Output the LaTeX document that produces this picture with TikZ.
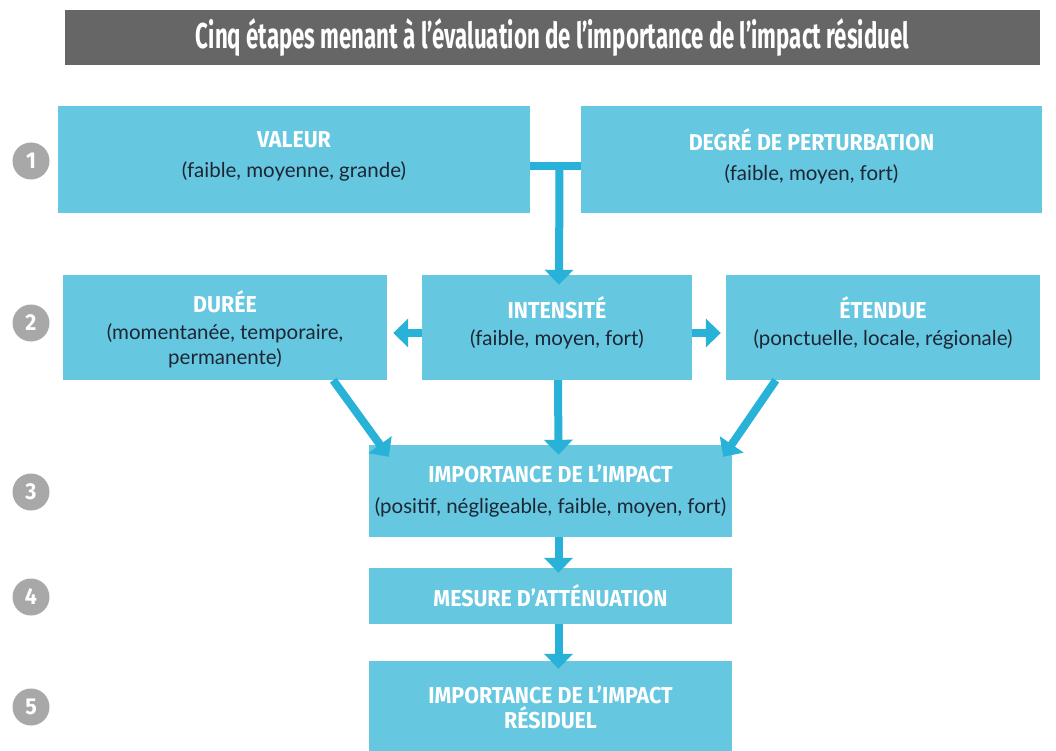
\documentclass[tikz,border=0pt]{standalone}
\usepackage{fontspec}
\usetikzlibrary{arrows.meta,calc}
\newfontfamily\hdfont{Fira Sans}[FakeStretch=0.93]
\newfontfamily\bdfont{Lato}
\newfontfamily\ttlfont{Fira Sans}[FakeStretch=0.62]
\definecolor{boxblue}{RGB}{102,199,224}
\definecolor{arrowblue}{RGB}{40,178,215}
\definecolor{titlegray}{RGB}{102,102,102}
\definecolor{numgray}{RGB}{168,168,168}
\definecolor{bodytext}{RGB}{28,38,52}
\newcommand\hdtxt[1]{{\hdfont\bfseries\color{white}\fontsize{23}{26}\selectfont #1}}
\begin{document}
\begin{tikzpicture}[x=1pt,y=-1pt,
  box/.style={fill=boxblue, draw=none, inner sep=0pt, align=center, text=bodytext,
    font=\bdfont\fontsize{20.5}{27}\selectfont},
  arr/.style={draw=arrowblue, line width=8pt, -{Triangle[width=28pt,length=15pt]}},
  bar/.style={draw=arrowblue, line width=8pt},
  num/.style={circle, fill=numgray, minimum size=37pt, inner sep=0pt, text=white,
    font=\hdfont\bfseries\fontsize{23}{23}\selectfont},
  titlebar/.style={fill=titlegray, inner sep=0pt, text=white}]
\useasboundingbox (0,0) rectangle (1056,751);
\fill[white] (0,0) rectangle (1056,751);
% title
\node[titlebar, minimum width=975pt, minimum height=55pt] (title) at (552.5,37.5)
  {\resizebox{713pt}{!}{\ttlfont\bfseries Cinq étapes menant à l’évaluation de l’importance de l’impact résiduel}};
% step numbers
\node[num] (n1) at (31,161) {1};
\node[num] (n2) at (31,323) {2};
\node[num] (n3) at (31,492) {3};
\node[num] (n4) at (31,597) {4};
\node[num] (n5) at (31,707) {5};
% row 1
\node[box, minimum width=472pt, minimum height=107pt] (val) at (294,159.5)
  {\hdtxt{VALEUR}\\[3pt](faible, moyenne, grande)\rule[-9pt]{0pt}{0pt}};
\node[box, minimum width=461pt, minimum height=107pt] (deg) at (811.5,159.5)
  {\hdtxt{DEGRÉ DE PERTURBATION}\\[3pt](faible, moyen, fort)\rule[-9pt]{0pt}{0pt}};
% row 2
\node[box, minimum width=324pt, minimum height=105pt] (dur) at (225,327.5)
  {\rule{0pt}{26pt}\hdtxt{DURÉE}\\[0pt](momentanée, temporaire,\\[-2pt]permanente)};
\node[box, minimum width=270pt, minimum height=105pt] (int) at (557,327.5)
  {\hdtxt{INTENSITÉ}\\(faible, moyen, fort)\rule[-13pt]{0pt}{0pt}};
\node[box, minimum width=314pt, minimum height=105pt] (ete) at (883,327.5)
  {\hdtxt{ÉTENDUE}\\(ponctuelle, locale, régionale)\rule[-13pt]{0pt}{0pt}};
% rows 3-5
\node[box, minimum width=363pt, minimum height=92pt] (imp) at (550.5,491)
  {\hdtxt{IMPORTANCE DE L’IMPACT}\\[4pt](positif, négligeable, faible, moyen, fort)};
\node[box, minimum width=363pt, minimum height=56pt] (mes) at (550.5,596)
  {\hdtxt{MESURE D’ATTÉNUATION}};
\node[box, minimum width=363pt, minimum height=92pt] (res) at (550.5,707)
  {\hdtxt{IMPORTANCE DE L’IMPACT}\\[-2pt]\hdtxt{RÉSIDUEL}};
% connectors
\coordinate (join) at ($(val.east)!0.5!(deg.west)+(4,6.5)$);
\draw[bar] ([yshift=-6.5pt]val.east) -- ([yshift=-6.5pt]deg.west);
\draw[arr] (join) -- ([xshift=2pt,yshift=-10pt]int.north);
\draw[arr] ([yshift=-5.5pt]int.west) -- ([xshift=6pt,yshift=-5.5pt]dur.east);
\draw[arr] ([yshift=-5.5pt]int.east) -- ([xshift=-5pt,yshift=-5.5pt]ete.west);
\draw[arr] ([xshift=-54pt]dur.south east) -- ([xshift=20pt,yshift=-12pt]imp.north west);
\draw[arr] ([xshift=50pt]ete.south west) -- ([xshift=-9pt,yshift=-12pt]imp.north east);
\draw[arr] ([xshift=1pt]int.south) -- ([xshift=8pt,yshift=-10pt]imp.north);
\draw[arr] ([xshift=8pt]imp.south) -- ([xshift=8pt,yshift=-5pt]mes.north);
\draw[arr] ([xshift=8pt]mes.south) -- ([xshift=8pt,yshift=-8pt]res.north);
\end{tikzpicture}
\end{document}
